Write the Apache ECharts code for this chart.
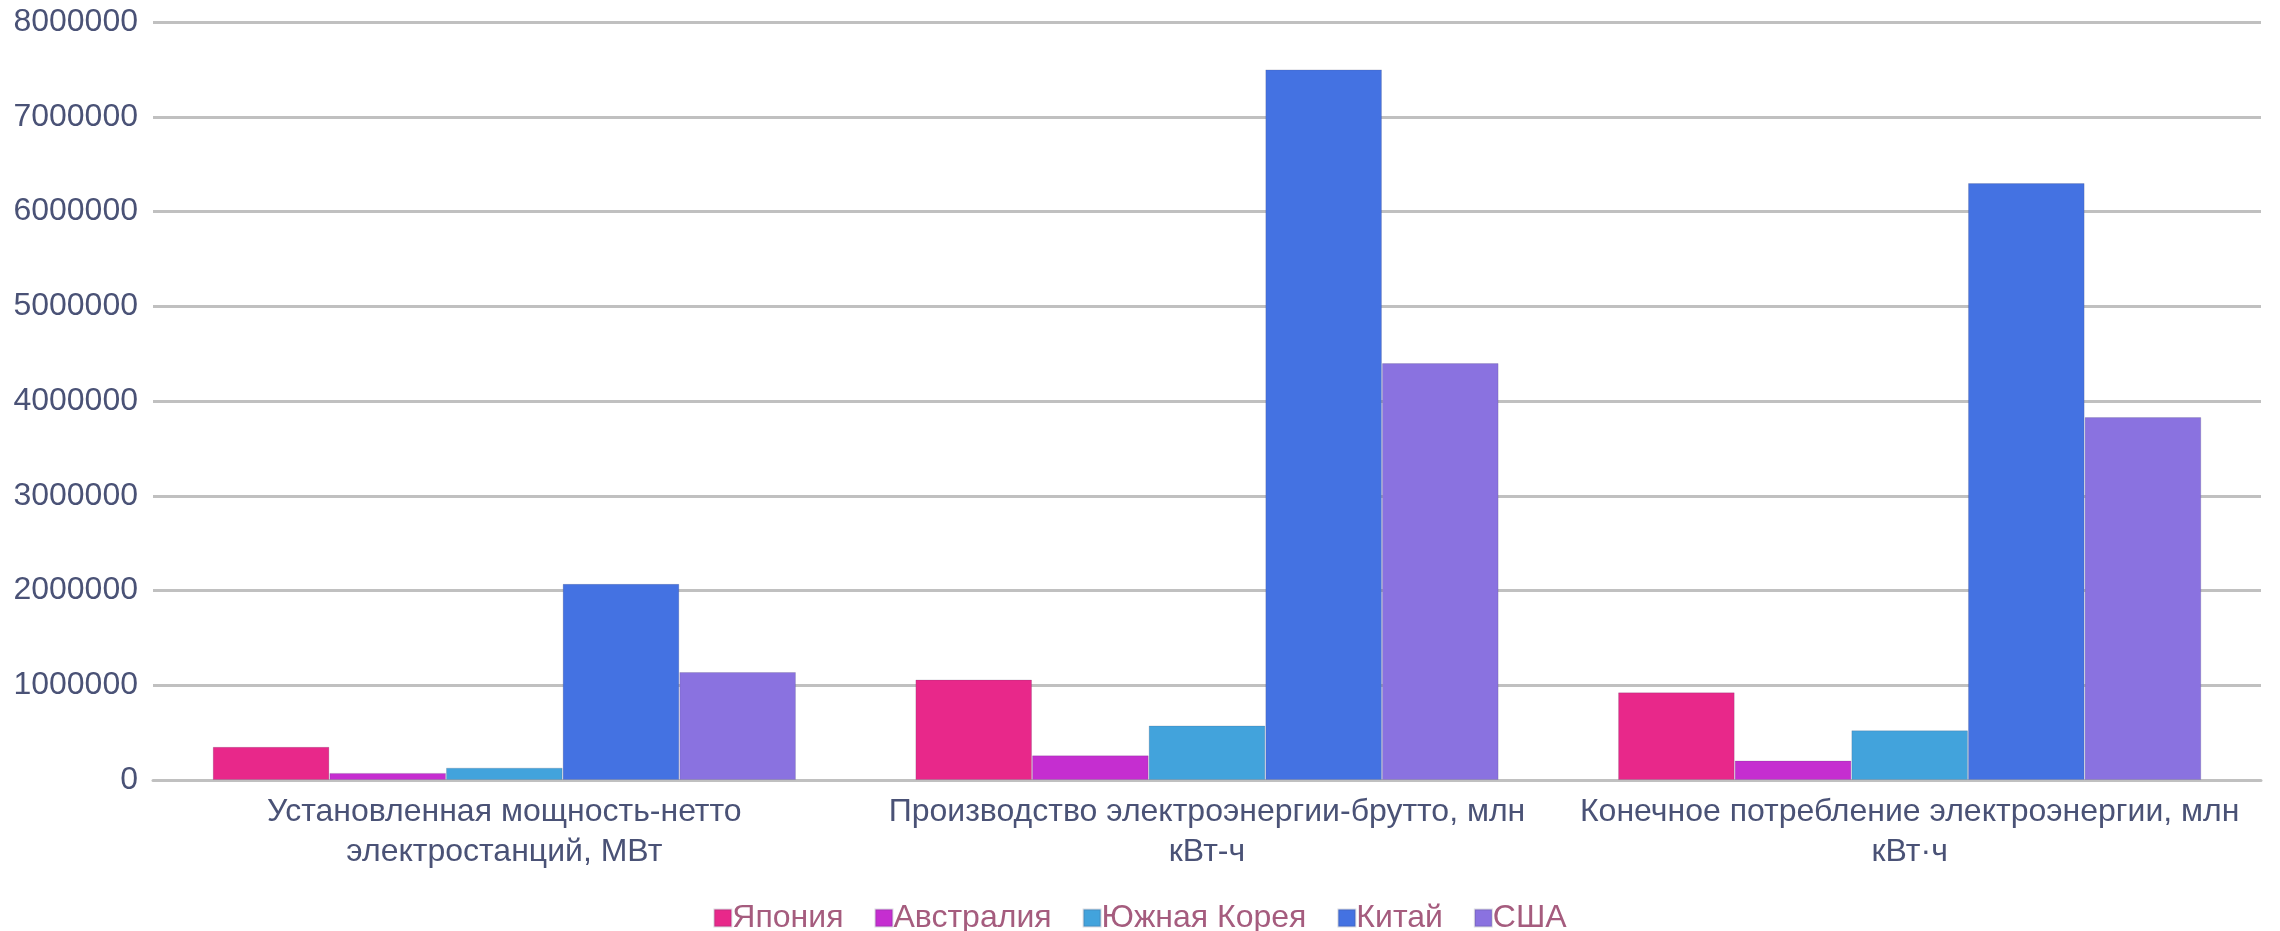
<!DOCTYPE html>
<html>
<head>
<meta charset="utf-8">
<style>
  html, body { margin: 0; padding: 0; background: #ffffff; }
  #chart { width: 2280px; height: 931px; }
</style>
<script src="https://cdn.jsdelivr.net/npm/echarts@6/dist/echarts.min.js"></script>
</head>
<body>
<div id="chart"></div>
<script>
// Categories (indicators) along the x axis
const categories = [
  'Установленная мощность-нетто\nэлектростанций, МВт',
  'Производство электроэнергии-брутто, млн\nкВт-ч',
  'Конечное потребление электроэнергии, млн\nкВт·ч'
];

// Country names (series)
const seriesNames = ['Япония', 'Австралия', 'Южная Корея', 'Китай', 'США'];

// Values per country, in category order
const japan      = [350000, 1060000, 925000];
const australia  = [75000, 260000, 205000];
const southKorea = [130000, 575000, 525000];
const china      = [2070000, 7500000, 6300000];
const usa        = [1140000, 4400000, 3830000];

// Y axis ticks
const yMin = 0;
const yMax = 8000000;
const yStep = 1000000;

const seriesValues = [japan, australia, southKorea, china, usa];
const colors = ['#e8288a', '#c52ed0', '#42a3dc', '#4472e2', '#8a72e0'];

const chart = echarts.init(document.getElementById('chart'), null, { renderer: 'canvas' });

const fontFamily = '"Liberation Sans", Arial, sans-serif';

chart.setOption({
  animation: false,
  backgroundColor: '#ffffff',
  color: colors,
  grid: { left: 153, right: 19, top: 22, bottom: 151, containLabel: false },
  legend: {
    data: seriesNames,
    top: 897,
    left: 'center',
    icon: 'rect',
    itemWidth: 17,
    itemHeight: 17,
    itemGap: 31,
    textStyle: {
      color: '#a55c7e',
      fontSize: 32,
      fontFamily: fontFamily,
      padding: [0, 0, 0, -4]
    }
  },
  xAxis: {
    type: 'category',
    data: categories,
    axisTick: { show: false },
    axisLine: { show: true, lineStyle: { color: '#c0c0c0', width: 3 } },
    axisLabel: {
      color: '#4a5276',
      fontSize: 32,
      fontFamily: fontFamily,
      lineHeight: 40,
      margin: 12,
      interval: 0
    }
  },
  yAxis: {
    type: 'value',
    min: yMin,
    max: yMax,
    interval: yStep,
    axisLine: { show: false },
    axisTick: { show: false },
    splitLine: { lineStyle: { color: '#c0c0c0', width: 3 } },
    axisLabel: {
      color: '#4a5276',
      fontSize: 32,
      fontFamily: fontFamily,
      margin: 15,
      formatter: (v) => String(v)
    }
  },
  series: seriesNames.map((name, i) => ({
    name: name,
    type: 'bar',
    data: seriesValues[i],
    barGap: '0%',
    barCategoryGap: '17%',
    itemStyle: { color: colors[i], borderColor: 'rgba(60,60,90,0.18)', borderWidth: 1 }
  }))
});
</script>
</body>
</html>
